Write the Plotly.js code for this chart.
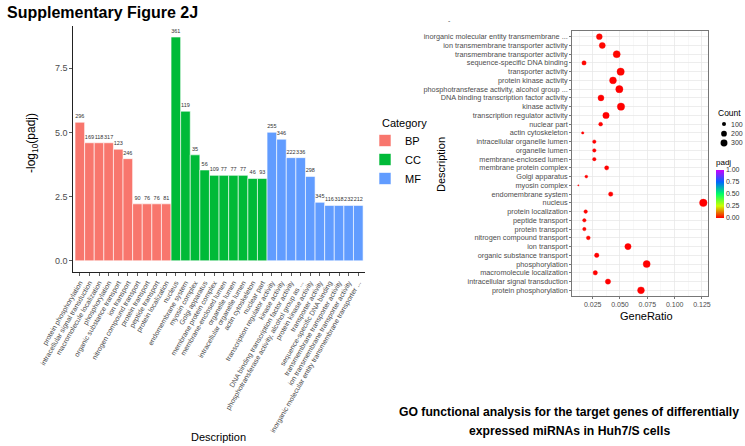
<!DOCTYPE html>
<html>
<head>
<meta charset="utf-8">
<script src="https://cdn.plot.ly/plotly-3.0.1.min.js"></script>
<style>html,body{margin:0;padding:0;background:#fff;}#chart{width:745px;height:446px;}</style>
</head>
<body>
<div id="chart"></div>
<script>
// ---------------- data ----------------
var bpTerms = ["protein phosphorylation","intracellular signal transduction","macromolecule localization","phosphorylation","organic substance transport","ion transport","nitrogen compound transport","protein transport","peptide transport","protein localization"];
var bpNegLogPadj = [5.40, 4.60, 4.60, 4.60, 4.35, 3.98, 2.22, 2.22, 2.22, 2.22];
var bpCounts = [296, 169, 118, 317, 123, 246, 90, 76, 76, 81];
var bpGeneRatio = [0.0692, 0.0390, 0.0274, 0.0744, 0.0287, 0.0573, 0.0210, 0.0174, 0.0174, 0.0186];

var ccTerms = ["nucleus","endomembrane system","myosin complex","Golgi apparatus","membrane protein complex","membrane-enclosed lumen","organelle lumen","intracellular organelle lumen","actin cytoskeleton","nuclear part"];
var ccNegLogPadj = [8.72, 5.83, 4.13, 3.54, 3.33, 3.33, 3.33, 3.33, 3.21, 3.21];
var ccCounts = [361, 119, 35, 56, 109, 77, 77, 77, 46, 93];
var ccGeneRatio = [0.1262, 0.0415, 0.0119, 0.0192, 0.0378, 0.0265, 0.0265, 0.0265, 0.0159, 0.0323];

var mfTermsBar = ["transcription regulator activity","kinase activity","DNA binding transcription factor activity","phosphotransferase activity, alcohol group as ...","protein kinase activity","transporter activity","sequence-specific DNA binding","transmembrane transporter activity","ion transmembrane transporter activity","inorganic molecular entity transmembrane transporter ..."];
var mfTermsDot = ["transcription regulator activity","kinase activity","DNA binding transcription factor activity","phosphotransferase activity, alcohol group ...","protein kinase activity","transporter activity","sequence-specific DNA binding","transmembrane transporter activity","ion transmembrane transporter activity","inorganic molecular entity transmembrane ..."];
var mfNegLogPadj = [5.01, 4.74, 4.02, 4.02, 3.29, 2.28, 2.16, 2.16, 2.16, 2.16];
var mfCounts = [255, 346, 222, 336, 298, 345, 116, 318, 232, 212];
var mfGeneRatio = [0.0372, 0.0509, 0.0326, 0.0494, 0.0436, 0.0506, 0.0171, 0.0470, 0.0338, 0.0311];

var categoryNames = ["BP", "CC", "MF"];
var categoryColors = ["#F8766D", "#00BA38", "#619CFF"];
var barTickValues = [0, 2.5, 5, 7.5];
var ratioTickValues = [0.025, 0.05, 0.075, 0.1, 0.125];
var sizeLegendCounts = [100, 200, 300];
var padjTickValues = [0, 0.25, 0.5, 0.75, 1];

// ---------------- helpers ----------------
var FONT = "Liberation Sans, Arial, sans-serif";
var allCounts = bpCounts.concat(ccCounts, mfCounts);
var cMin = Math.min.apply(null, allCounts), cMax = Math.max.apply(null, allCounts);
function dotSize(c) { // ggplot-like area scale, range 1..6
  var t = Math.max(0, (c - cMin) / (cMax - cMin));
  return 1.25 * (1 + 5 * Math.sqrt(t));
}
var W = 745, H = 446;
function px(x) { return x / W; }
function py(y) { return 1 - y / H; }

var barTerms = bpTerms.concat(ccTerms, mfTermsBar);
var dotTerms = bpTerms.concat(ccTerms, mfTermsDot);

var traces = [];
var groups = [
  [bpTerms, bpNegLogPadj, bpCounts],
  [ccTerms, ccNegLogPadj, ccCounts],
  [mfTermsBar, mfNegLogPadj, mfCounts]
];
groups.forEach(function (g, i) {
  traces.push({
    type: "bar", x: g[0], y: g[1], name: categoryNames[i],
    xaxis: "x", yaxis: "y",
    marker: { color: categoryColors[i], line: { color: "#ffffff", width: 0.6 } },
    text: g[2].map(String), textposition: "outside", cliponaxis: false,
    constraintext: "none",
    textfont: { size: 5.5, color: "#333333", family: FONT },
    hoverinfo: "x+y"
  });
});

var allNegLog = bpNegLogPadj.concat(ccNegLogPadj, mfNegLogPadj);
var allRatio = bpGeneRatio.concat(ccGeneRatio, mfGeneRatio);
traces.push({
  type: "scatter", mode: "markers", xaxis: "x2", yaxis: "y2",
  x: allRatio, y: dotTerms, showlegend: false,
  marker: {
    size: allCounts.map(dotSize),
    opacity: 1,
    color: allNegLog.map(function (v) { return Math.pow(10, -v); }),
    cmin: 0, cmax: 1,
    colorscale: [[0, "#FF0000"], [0.25, "#CCFF00"], [0.5, "#00FF66"], [0.75, "#0066FF"], [1, "#CC00FF"]],
    line: { width: 0.4, color: "#FF0000" },
    colorbar: {
      x: px(716), xanchor: "left", xref: "paper",
      y: py(218), yanchor: "bottom", yref: "paper",
      len: 62, lenmode: "pixels", thickness: 8, thicknessmode: "pixels",
      outlinewidth: 0, xpad: 0, ypad: 0, ticks: "",
      tickvals: padjTickValues, ticktext: padjTickValues.map(function (v) { return v.toFixed(2); }),
      tickfont: { size: 7, color: "#333333", family: FONT },
      title: { text: "padj", side: "top", font: { size: 8, color: "#000", family: FONT } }
    }
  }
});

// size legend (shapes + labels)
var shapes = [], annotations = [];
var legendYs = [124, 133.7, 143];
sizeLegendCounts.forEach(function (c, i) {
  var r = dotSize(c) / 2;
  shapes.push({ type: "circle", xref: "paper", yref: "paper",
    x0: px(724 - r), x1: px(724 + r), y0: py(legendYs[i] + r), y1: py(legendYs[i] - r),
    fillcolor: "#000", line: { width: 0 } });
  annotations.push({ xref: "paper", yref: "paper", x: px(729), y: py(legendYs[i]), xanchor: "left", yanchor: "middle",
    text: String(c), showarrow: false, font: { size: 7, color: "#333", family: FONT } });
});
annotations.push({ xref: "paper", yref: "paper", x: px(716), y: py(112.5), xanchor: "left", yanchor: "middle",
  text: "Count", showarrow: false, font: { size: 8.5, color: "#000", family: FONT } });

annotations.push(
  { xref: "paper", yref: "paper", x: px(5), y: py(13), xanchor: "left", yanchor: "middle", showarrow: false,
    text: "<b>Supplementary Figure 2J</b>", font: { size: 16, color: "#000", family: FONT } },
  { xref: "paper", yref: "paper", x: px(32), y: py(143), xanchor: "center", yanchor: "middle", showarrow: false, textangle: -90,
    text: "-log<sub>10</sub>(padj)", font: { size: 12, color: "#000", family: FONT } },
  { xref: "paper", yref: "paper", x: px(218), y: py(437), xanchor: "center", yanchor: "middle", showarrow: false,
    text: "Description", font: { size: 11, color: "#000", family: FONT } },
  { xref: "paper", yref: "paper", x: px(441), y: py(165), xanchor: "center", yanchor: "middle", showarrow: false, textangle: -90,
    text: "Description", font: { size: 11, color: "#000", family: FONT } },
  { xref: "paper", yref: "paper", x: px(646), y: py(316), xanchor: "center", yanchor: "middle", showarrow: false,
    text: "GeneRatio", font: { size: 11, color: "#000", family: FONT } },
  { xref: "paper", yref: "paper", x: px(380), y: py(123), xanchor: "left", yanchor: "middle", showarrow: false,
    text: "Category", font: { size: 11, color: "#000", family: FONT } },
  { xref: "paper", yref: "paper", x: px(569), y: py(412), xanchor: "center", yanchor: "middle", showarrow: false,
    text: "<b>GO functional analysis for the target genes of differentially</b>", font: { size: 12.2, color: "#000", family: FONT } },
  { xref: "paper", yref: "paper", x: px(569), y: py(431), xanchor: "center", yanchor: "middle", showarrow: false,
    text: "<b>expressed miRNAs in Huh7/S cells</b>", font: { size: 12.2, color: "#000", family: FONT } },
  { xref: "paper", yref: "paper", x: px(449), y: py(20), xanchor: "center", yanchor: "middle", showarrow: false,
    text: "-", font: { size: 7, color: "#555", family: FONT } }
);

var layout = {
  width: W, height: H,
  margin: { l: 0, r: 0, t: 0, b: 0 },
  paper_bgcolor: "#ffffff", plot_bgcolor: "#ffffff",
  font: { family: FONT, color: "#333" },
  barmode: "overlay", bargap: 0,
  showlegend: true,
  legend: {
    x: px(365), y: py(126), xanchor: "left", yanchor: "top",
    bgcolor: "rgba(0,0,0,0)", font: { size: 11, color: "#000", family: FONT },
    tracegroupgap: 0
  },
  xaxis: {
    domain: [px(73.3), px(365)], anchor: "y",
    type: "category", categoryorder: "array", categoryarray: barTerms,
    tickmode: "array", tickvals: barTerms, ticktext: barTerms,
    range: [-0.68, 29.7],
    showline: true, linecolor: "#222", linewidth: 1,
    ticks: "outside", ticklen: 3, tickcolor: "#333", tickwidth: 0.8,
    tickangle: -60, tickfont: { size: 7, color: "#4d4d4d", family: FONT },
    showgrid: false, zeroline: false
  },
  yaxis: {
    domain: [py(272), py(26)], anchor: "x",
    range: [-0.436, 9.15],
    tickmode: "array", tickvals: barTickValues, ticktext: barTickValues.map(function (v) { return v.toFixed(1); }),
    showline: true, linecolor: "#222", linewidth: 1,
    ticks: "outside", ticklen: 3, tickcolor: "#333", tickwidth: 0.8,
    tickfont: { size: 9, color: "#4d4d4d", family: FONT },
    showgrid: false, zeroline: false
  },
  xaxis2: {
    domain: [px(572), px(708)], anchor: "y2",
    range: [0.0061, 0.1305],
    tickmode: "array", tickvals: ratioTickValues, ticktext: ratioTickValues.map(function (v) { return v.toFixed(3); }),
    showline: true, mirror: true, linecolor: "#555", linewidth: 0.8,
    ticks: "outside", ticklen: 2, tickcolor: "#555", tickwidth: 0.8,
    tickfont: { size: 7, color: "#4d4d4d", family: FONT },
    showgrid: true, gridcolor: "#e6e6e6", gridwidth: 0.7, zeroline: false,
    minor: { tickmode: "array", tickvals: [0.0125, 0.0375, 0.0625, 0.0875, 0.1125], showgrid: true, gridcolor: "#f2f2f2", gridwidth: 0.5, ticks: "" }
  },
  yaxis2: {
    domain: [py(296), py(31)], anchor: "x2",
    type: "category", categoryorder: "array", categoryarray: dotTerms,
    tickmode: "array", tickvals: dotTerms, ticktext: dotTerms,
    range: [-0.65, 29.65],
    showline: true, mirror: true, linecolor: "#555", linewidth: 0.8,
    ticks: "outside", ticklen: 2, tickcolor: "#555", tickwidth: 0.8,
    tickfont: { size: 7.3, color: "#4d4d4d", family: FONT },
    showgrid: true, gridcolor: "#e6e6e6", gridwidth: 0.7, zeroline: false
  },
  shapes: shapes,
  annotations: annotations
};

Plotly.newPlot("chart", traces, layout, { displayModeBar: false, staticPlot: true });
</script>
</body>
</html>
